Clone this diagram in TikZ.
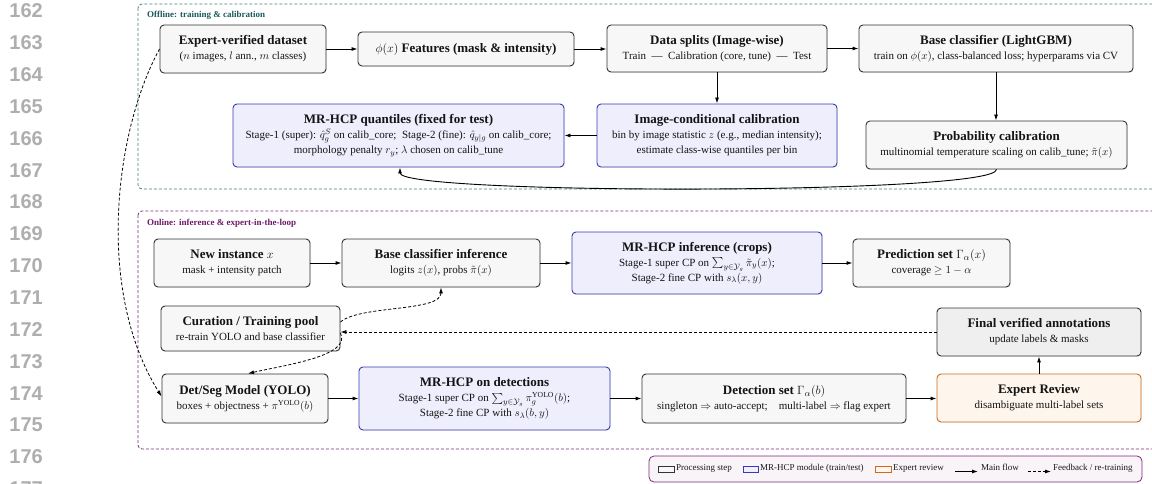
\documentclass[tikz,border=0pt]{standalone}
\usepackage{amsmath,amssymb}
\usepackage{fontspec}
\setmainfont{Liberation Serif}
\newfontfamily\linenofont{Liberation Sans}
\usetikzlibrary{arrows.meta,shadows}

\definecolor{procfill}{HTML}{F7F7F7}
\definecolor{procdraw}{HTML}{333333}
\definecolor{hcpfill}{HTML}{EEEEFC}
\definecolor{hcpdraw}{HTML}{3A3AB4}
\definecolor{expfill}{HTML}{FEF5EC}
\definecolor{expdraw}{HTML}{CC6A1E}
\definecolor{finfill}{HTML}{EFEFEF}
\definecolor{offcol}{HTML}{3C8282}
\definecolor{offtext}{HTML}{1C5A5A}
\definecolor{oncol}{HTML}{7C2A7C}
\definecolor{ontext}{HTML}{6E1A66}
\definecolor{legfill}{HTML}{F8F4F8}
\definecolor{linenocol}{HTML}{AEAEAE}

\newcommand{\ttlfont}{\fontsize{13}{15}\selectfont\bfseries}
\newcommand{\subfont}{\fontsize{11}{15}\selectfont}
\newcommand{\legfont}{\fontsize{9}{10}\selectfont}
\newcommand{\frmfont}{\fontsize{9}{10}\selectfont\bfseries}

\tikzset{
  box/.style={rounded corners=4pt, line width=0.9pt, align=center, inner sep=2pt,
    font=\subfont, text=black!92,
    drop shadow={shadow xshift=0.7pt,shadow yshift=-0.7pt,opacity=0.18}},
  proc/.style={box, draw=procdraw, fill=procfill},
  hcp/.style={box, draw=hcpdraw, fill=hcpfill},
  expert/.style={box, draw=expdraw, fill=expfill},
  final/.style={box, draw=procdraw, fill=finfill},
  flow/.style={-{Latex[length=6pt,width=4pt]}, line width=0.9pt, black},
  fb/.style={flow, dash pattern=on 3pt off 2pt, line width=0.8pt},
  frame/.style={rounded corners=4pt, line width=0.8pt, dash pattern=on 3pt off 2pt},
  frmlabel/.style={anchor=west, inner sep=0pt, font=\frmfont},
  lineno/.style={anchor=east, inner sep=0pt, font=\linenofont\bfseries\fontsize{20}{22}\selectfont, text=linenocol},
  legtext/.style={anchor=base west, inner sep=0pt, font=\legfont, text=black!90},
}

\begin{document}
\begin{tikzpicture}[x=1pt,y=-1pt]
\useasboundingbox (0,0) rectangle (1152,484);
\clip (0,0) rectangle (1152,484);

% line numbers
\foreach \n [count=\i from 0] in {162,163,164,165,166,167,168,169,170,171,172,173,174,175,176,177}
  \node[lineno] (ln\n) at (43,{11+31.85*\i}) {\n};

% frames
\draw[frame, draw=offcol] (138,4) rectangle (1175,189);
\node[frmlabel, text=offtext] (offlbl) at (147,15) {Offline: training \& calibration};
\draw[frame, draw=oncol] (138,211) rectangle (1175,449);
\node[frmlabel, text=ontext] (onlbl) at (147,223) {Online: inference \& expert-in-the-loop};

% offline nodes
\node[proc,minimum width=166pt,minimum height=48pt] (ds) at (243,49)
  {{\ttlfont Expert-verified dataset}\\($n$ images, $l$ ann., $m$ classes)};
\node[proc,minimum width=216pt,minimum height=34pt] (feat) at (466,49)
  {{\ttlfont $\phi(x)$ Features (mask \& intensity)}};
\node[proc,minimum width=220pt,minimum height=47pt] (split) at (717,48.5)
  {{\ttlfont Data splits (Image-wise)}\\Train\ \ ---\ \ Calibration (core, tune)\ \ ---\ \ Test};
\node[proc,minimum width=274pt,minimum height=47pt] (base) at (996,48.5)
  {{\ttlfont Base classifier (LightGBM)}\\train on $\phi(x)$, class-balanced loss; hyperparams via CV};
\node[hcp,minimum width=331pt,minimum height=63pt] (quant) at (398.5,135.5)
  {{\ttlfont MR-HCP quantiles (fixed for test)}\\Stage-1 (super): $\hat q^{S}_{g}$ on calib\_core;\ \ Stage-2 (fine): $\hat q_{y|g}$ on calib\_core;\\morphology penalty $r_y$; $\lambda$ chosen on calib\_tune};
\node[hcp,minimum width=240pt,minimum height=63pt] (icc) at (717,135.5)
  {{\ttlfont Image-conditional calibration}\\bin by image statistic $z$ (e.g., median intensity);\\estimate class-wise quantiles per bin};
\node[proc,minimum width=261pt,minimum height=48pt] (pcal) at (996.5,145)
  {{\ttlfont Probability calibration}\\multinomial temperature scaling on calib\_tune; $\tilde\pi(x)$};

% online nodes
\node[proc,minimum width=156pt,minimum height=48pt] (new) at (232,263)
  {{\ttlfont New instance $x$}\\mask + intensity patch};
\node[proc,minimum width=198pt,minimum height=48pt] (binf) at (441,263)
  {{\ttlfont Base classifier inference}\\logits $z(x)$, probs $\tilde\pi(x)$};
\node[hcp,minimum width=250pt,minimum height=62pt] (hinf) at (697,263)
  {{\ttlfont MR-HCP inference (crops)}\\Stage-1 super CP on $\sum_{y\in\mathcal{Y}_g}\tilde\pi_y(x)$;\\Stage-2 fine CP with $s_\lambda(x,y)$};
\node[proc,minimum width=157pt,minimum height=48pt] (pset) at (931.5,263)
  {{\ttlfont Prediction set $\Gamma_\alpha(x)$}\\coverage $\geq 1-\alpha$};
\node[proc,minimum width=179pt,minimum height=45pt] (cur) at (250.5,328.5)
  {{\ttlfont Curation / Training pool}\\re-train YOLO and base classifier};
\node[final,minimum width=204pt,minimum height=48pt] (fin) at (1039,332)
  {{\ttlfont Final verified annotations}\\update labels \& masks};
\node[proc,minimum width=166pt,minimum height=49pt] (yolo) at (245,398.5)
  {{\ttlfont Det/Seg Model (YOLO)}\\boxes + objectness + $\pi^{\text{YOLO}}(b)$};
\node[hcp,minimum width=251pt,minimum height=63pt] (hdet) at (484.5,398.5)
  {{\ttlfont MR-HCP on detections}\\Stage-1 super CP on $\sum_{y\in\mathcal{Y}_g}\pi_g^{\text{YOLO}}(b)$;\\Stage-2 fine CP with $s_\lambda(b,y)$};
\node[proc,minimum width=264pt,minimum height=49pt] (dset) at (774,398.5)
  {{\ttlfont Detection set $\Gamma_\alpha(b)$}\\singleton $\Rightarrow$ auto-accept;\quad multi-label $\Rightarrow$ flag expert};
\node[expert,minimum width=204pt,minimum height=48pt] (exp) at (1039,398)
  {{\ttlfont Expert Review}\\disambiguate multi-label sets};

% offline connectors
\draw[flow] (ds.east) -- (feat.west);
\draw[flow] (feat.east) -- (feat.east -| split.west);
\draw[flow] (split.east) -- (base.west);
\draw[flow] (split.south) -- (icc.north);
\draw[flow] (base.south) -- (base.south |- pcal.north);
\draw[flow] (icc.west) -- (quant.east);
\draw[flow] (pcal.south) .. controls (996.5,195) and (400,195) .. ([xshift=1.5pt]quant.south);

% online connectors
\draw[flow] (new.east) -- (binf.west);
\draw[flow] (binf.east) -- (hinf.west);
\draw[flow] (hinf.east) -- (pset.west);
\draw[flow] (yolo.east) -- (hdet.west);
\draw[flow] (hdet.east) -- (dset.west);
\draw[flow] (dset.east) -- (dset.east -| exp.west);
\draw[flow] (exp.north) -- (fin.south);

% feedback
\draw[fb] (fin.west) -- (fin.west -| cur.east);
\draw[fb] ([yshift=6.5pt]cur.east) .. controls (360,305) and (441,312) .. (binf.south);
\draw[fb] ([yshift=-4.5pt]cur.east) .. controls (352,356) and (285,365) .. ([xshift=3pt]yolo.north);
\draw[fb] (ds.west) .. controls (115,130) and (95,290) .. ([yshift=2pt]yolo.west);

% legend
\draw[rounded corners=5pt, line width=0.8pt, draw=oncol, fill=legfill] (649,456) rectangle (1142,482);
\draw[line width=0.8pt, draw=procdraw, fill=procfill] (658,466) rectangle (674,472);
\node[legtext] (lg1) at (676,470) {Processing step};
\draw[line width=0.8pt, draw=hcpdraw, fill=hcpfill] (743,466) rectangle (758,472);
\node[legtext] (lg2) at (760,470) {MR-HCP module (train/test)};
\draw[line width=0.8pt, draw=expdraw, fill=expfill] (875,466) rectangle (891,472);
\node[legtext] (lg3) at (893,470) {Expert review};
\coordinate (a1) at (955,471.5);
\coordinate (a2) at (978,471.5);
\draw[flow] (a1) -- (a2);
\node[legtext] (lg4) at (981,470) {Main flow};
\coordinate (b1) at (1028,471.5);
\coordinate (b2) at (1051,471.5);
\draw[fb] (b1) -- (b2);
\node[legtext] (lg5) at (1053,470) {Feedback / re-training};
\end{tikzpicture}
\end{document}
